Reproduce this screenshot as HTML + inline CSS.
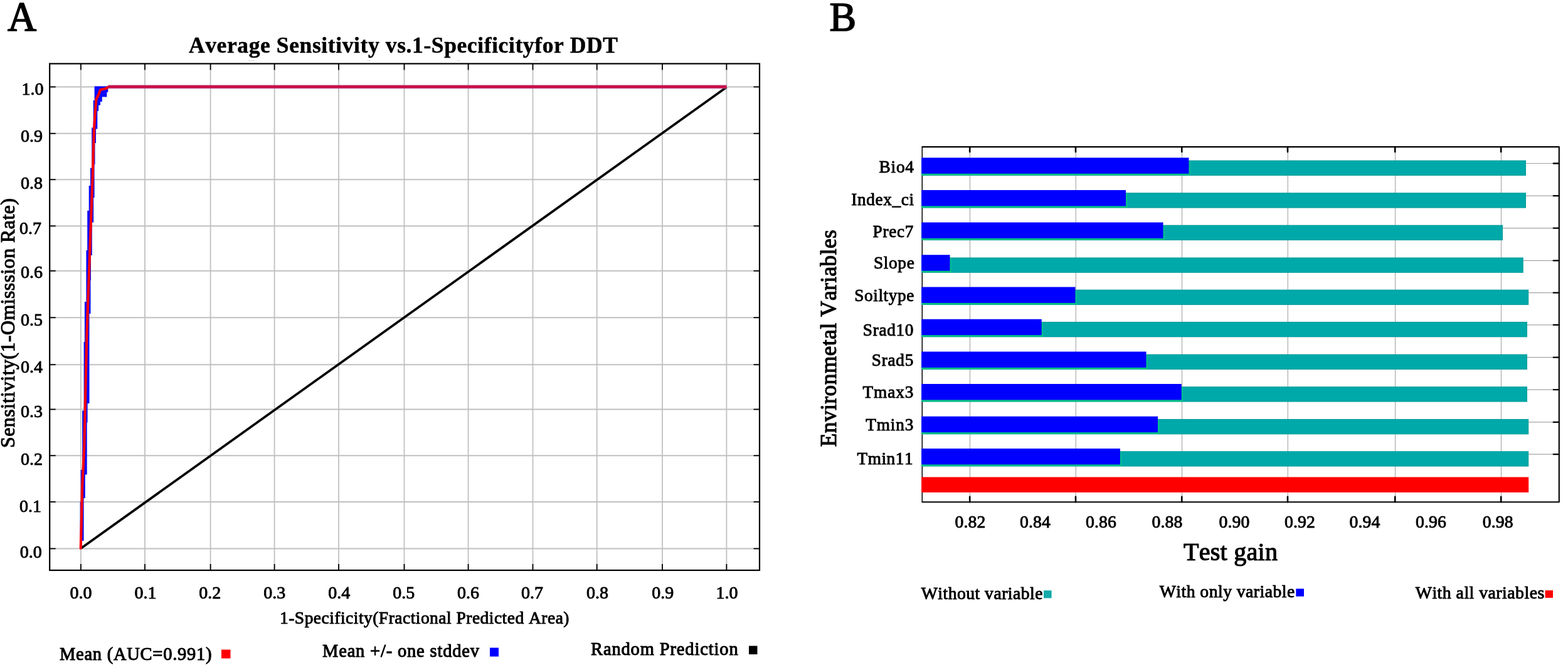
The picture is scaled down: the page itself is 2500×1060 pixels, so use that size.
<!DOCTYPE html>
<html lang="en">
<head>
<meta charset="utf-8">
<title>Average Sensitivity vs. 1-Specificity and Jackknife of Test gain</title>
<style>
html,body{margin:0;padding:0;background:#fff;}
body{width:2500px;height:1060px;overflow:hidden;}
svg{display:block;}
svg text{font-family:"Liberation Serif", serif;fill:#000;stroke:#000;stroke-linejoin:round;font-kerning:none;font-variant-ligatures:none;}
</style>
</head>
<body>
<svg width="2500" height="1060" viewBox="0 0 2500 1060">
<rect width="2500" height="1060" fill="#ffffff"/>
<g id="panelA">
<g stroke="#c0c0c0" stroke-width="1.8" fill="none">
<line x1="128.90" y1="101.5" x2="128.90" y2="909"/>
<line x1="231.00" y1="101.5" x2="231.00" y2="909"/>
<line x1="335.60" y1="101.5" x2="335.60" y2="909"/>
<line x1="437.60" y1="101.5" x2="437.60" y2="909"/>
<line x1="540.00" y1="101.5" x2="540.00" y2="909"/>
<line x1="644.50" y1="101.5" x2="644.50" y2="909"/>
<line x1="746.60" y1="101.5" x2="746.60" y2="909"/>
<line x1="849.50" y1="101.5" x2="849.50" y2="909"/>
<line x1="951.70" y1="101.5" x2="951.70" y2="909"/>
<line x1="1056.00" y1="101.5" x2="1056.00" y2="909"/>
<line x1="1158.40" y1="101.5" x2="1158.40" y2="909"/>
<line x1="79.2" y1="874.50" x2="1211" y2="874.50"/>
<line x1="79.2" y1="800.00" x2="1211" y2="800.00"/>
<line x1="79.2" y1="726.25" x2="1211" y2="726.25"/>
<line x1="79.2" y1="652.50" x2="1211" y2="652.50"/>
<line x1="79.2" y1="581.25" x2="1211" y2="581.25"/>
<line x1="79.2" y1="506.25" x2="1211" y2="506.25"/>
<line x1="79.2" y1="431.75" x2="1211" y2="431.75"/>
<line x1="79.2" y1="360.25" x2="1211" y2="360.25"/>
<line x1="79.2" y1="286.25" x2="1211" y2="286.25"/>
<line x1="79.2" y1="212.75" x2="1211" y2="212.75"/>
<line x1="79.2" y1="138.50" x2="1211" y2="138.50"/>
</g>
<line x1="129.50" y1="873.70" x2="1158.40" y2="139.10" stroke="#000" stroke-width="3.7"/>
<polygon points="150.6,137.5 150.6,160 148.7,160 148.7,203.6 146.2,203.6 146.2,267.7 144,267.7 144,296 141.7,296 141.7,335.7 139.2,335.7 139.2,399 137.4,399 137.4,481 134.9,481 134.9,545 133.6,545 133.6,654.5 131.1,654.5 131.1,749 128.7,749 128.7,800 127.6,800 127.6,874 131,874 131,862 133.6,862 133.6,794 135.8,794 135.8,756.6 138.7,756.6 138.7,673.4 139.6,673.4 139.6,643 142.5,643 142.5,500 144.5,500 144.5,447 145,447 145,407 146.8,407 146.8,354.5 149.2,354.5 149.2,315 150.6,315 150.6,262 151.5,262 151.5,228 153,228 153,205.5 155.3,205.5 155.3,177 157.2,177 157.2,167.7 160,167.7 160,162 162.8,162 162.8,154.5 170.4,154.5 170.4,147 172.3,147 172.3,137.5" fill="#0a0aff"/>
<polyline points="128.7,874 129.8,832 131.1,775.5 134.2,715 138.5,530 145.8,330 147.7,281 148.7,243.2 150,205.5 151.9,177.2 153.4,158.3 157.2,150.8 160,143.2 170.4,140.4 173.2,138.3" fill="none" stroke="#ff0000" stroke-width="4.1" stroke-linejoin="round" stroke-linecap="round"/>
<line x1="172.5" y1="138.3" x2="1158.40" y2="138.3" stroke="#bb4a8a" stroke-width="5.8"/>
<line x1="172.5" y1="138.3" x2="1158.40" y2="138.3" stroke="#ca0c42" stroke-width="3.6"/>
<rect x="79.2" y="101.5" width="1131.8" height="807.5" fill="none" stroke="#000" stroke-width="2.2"/>
<g stroke="#000" stroke-width="1.8">
<line x1="128.90" y1="101.5" x2="128.90" y2="111.5"/>
<line x1="128.90" y1="909" x2="128.90" y2="899"/>
<line x1="231.00" y1="101.5" x2="231.00" y2="111.5"/>
<line x1="231.00" y1="909" x2="231.00" y2="899"/>
<line x1="335.60" y1="101.5" x2="335.60" y2="111.5"/>
<line x1="335.60" y1="909" x2="335.60" y2="899"/>
<line x1="437.60" y1="101.5" x2="437.60" y2="111.5"/>
<line x1="437.60" y1="909" x2="437.60" y2="899"/>
<line x1="540.00" y1="101.5" x2="540.00" y2="111.5"/>
<line x1="540.00" y1="909" x2="540.00" y2="899"/>
<line x1="644.50" y1="101.5" x2="644.50" y2="111.5"/>
<line x1="644.50" y1="909" x2="644.50" y2="899"/>
<line x1="746.60" y1="101.5" x2="746.60" y2="111.5"/>
<line x1="746.60" y1="909" x2="746.60" y2="899"/>
<line x1="849.50" y1="101.5" x2="849.50" y2="111.5"/>
<line x1="849.50" y1="909" x2="849.50" y2="899"/>
<line x1="951.70" y1="101.5" x2="951.70" y2="111.5"/>
<line x1="951.70" y1="909" x2="951.70" y2="899"/>
<line x1="1056.00" y1="101.5" x2="1056.00" y2="111.5"/>
<line x1="1056.00" y1="909" x2="1056.00" y2="899"/>
<line x1="1158.40" y1="101.5" x2="1158.40" y2="111.5"/>
<line x1="1158.40" y1="909" x2="1158.40" y2="899"/>
<line x1="79.2" y1="874.50" x2="88.7" y2="874.50"/>
<line x1="1211" y1="874.50" x2="1201.5" y2="874.50"/>
<line x1="79.2" y1="800.00" x2="88.7" y2="800.00"/>
<line x1="1211" y1="800.00" x2="1201.5" y2="800.00"/>
<line x1="79.2" y1="726.25" x2="88.7" y2="726.25"/>
<line x1="1211" y1="726.25" x2="1201.5" y2="726.25"/>
<line x1="79.2" y1="652.50" x2="88.7" y2="652.50"/>
<line x1="1211" y1="652.50" x2="1201.5" y2="652.50"/>
<line x1="79.2" y1="581.25" x2="88.7" y2="581.25"/>
<line x1="1211" y1="581.25" x2="1201.5" y2="581.25"/>
<line x1="79.2" y1="506.25" x2="88.7" y2="506.25"/>
<line x1="1211" y1="506.25" x2="1201.5" y2="506.25"/>
<line x1="79.2" y1="431.75" x2="88.7" y2="431.75"/>
<line x1="1211" y1="431.75" x2="1201.5" y2="431.75"/>
<line x1="79.2" y1="360.25" x2="88.7" y2="360.25"/>
<line x1="1211" y1="360.25" x2="1201.5" y2="360.25"/>
<line x1="79.2" y1="286.25" x2="88.7" y2="286.25"/>
<line x1="1211" y1="286.25" x2="1201.5" y2="286.25"/>
<line x1="79.2" y1="212.75" x2="88.7" y2="212.75"/>
<line x1="1211" y1="212.75" x2="1201.5" y2="212.75"/>
<line x1="79.2" y1="138.50" x2="88.7" y2="138.50"/>
<line x1="1211" y1="138.50" x2="1201.5" y2="138.50"/>
</g>
<text x="66.7" y="889.30" font-size="28" text-anchor="end" stroke-width="0.92">0.0</text>
<text x="66.0" y="815.80" font-size="28" text-anchor="end" stroke-width="0.92">0.1</text>
<text x="68" y="740.55" font-size="28" text-anchor="end" stroke-width="0.92">0.2</text>
<text x="68" y="665.30" font-size="28" text-anchor="end" stroke-width="0.92">0.3</text>
<text x="68" y="594.45" font-size="28" text-anchor="end" stroke-width="0.92">0.4</text>
<text x="68" y="519.05" font-size="28" text-anchor="end" stroke-width="0.92">0.5</text>
<text x="68" y="443.25" font-size="28" text-anchor="end" stroke-width="0.92">0.6</text>
<text x="66.0" y="373.05" font-size="28" text-anchor="end" stroke-width="0.92">0.7</text>
<text x="68" y="301.05" font-size="28" text-anchor="end" stroke-width="0.92">0.8</text>
<text x="68" y="225.55" font-size="28" text-anchor="end" stroke-width="0.92">0.9</text>
<text x="69.5" y="151.30" font-size="28" text-anchor="end" stroke-width="0.92">1.0</text>
<text x="129.00" y="953.6" font-size="28" text-anchor="middle" stroke-width="0.92">0.0</text>
<text x="231.93" y="953.6" font-size="28" text-anchor="middle" stroke-width="0.92">0.1</text>
<text x="334.86" y="953.6" font-size="28" text-anchor="middle" stroke-width="0.92">0.2</text>
<text x="437.79" y="953.6" font-size="28" text-anchor="middle" stroke-width="0.92">0.3</text>
<text x="540.72" y="953.6" font-size="28" text-anchor="middle" stroke-width="0.92">0.4</text>
<text x="643.65" y="953.6" font-size="28" text-anchor="middle" stroke-width="0.92">0.5</text>
<text x="746.58" y="953.6" font-size="28" text-anchor="middle" stroke-width="0.92">0.6</text>
<text x="848.51" y="953.6" font-size="28" text-anchor="middle" stroke-width="0.92">0.7</text>
<text x="952.44" y="953.6" font-size="28" text-anchor="middle" stroke-width="0.92">0.8</text>
<text x="1056.67" y="953.6" font-size="28" text-anchor="middle" stroke-width="0.92">0.9</text>
<text x="1159.00" y="953.6" font-size="28" text-anchor="middle" stroke-width="0.92">1.0</text>
<rect x="396" y="96" width="10" height="1" fill="#d4d4d4"/>
<rect x="585" y="96" width="6" height="1" fill="#d4d4d4"/>
<rect x="729" y="96" width="4" height="1" fill="#d4d4d4"/>
<rect x="851" y="96" width="6" height="1" fill="#d4d4d4"/>
<text x="301" y="84" font-size="35.5" font-weight="bold" textLength="684" lengthAdjust="spacing" stroke-width="0.5">Average Sensitivity vs.1-Specificityfor DDT</text>
<text x="446" y="994" font-size="27.5" textLength="461.5" lengthAdjust="spacing" stroke-width="0.91">1-Specificity(Fractional Predicted Area)</text>
<text transform="translate(23,714) rotate(-90)" font-size="32" textLength="398" lengthAdjust="spacing" stroke-width="1.06">Sensitivity(1-Omisssion Rate)</text>
<text x="12.1" y="48.7" font-size="66.8" textLength="46.2" lengthAdjust="spacingAndGlyphs" stroke-width="1.7">A</text>
<text x="95" y="1051.7" font-size="28.5" textLength="242.5" lengthAdjust="spacing" stroke-width="1.05">Mean (AUC=0.991)</text>
<rect x="353" y="1035.5" width="14.5" height="14" fill="#ff0000"/>
<text x="514" y="1046.6" font-size="28.5" textLength="250" lengthAdjust="spacing" stroke-width="1.05">Mean +/- one stddev</text>
<rect x="781" y="1032.5" width="14" height="14" fill="#0000ff"/>
<text x="942" y="1044.2" font-size="28.5" textLength="234.7" lengthAdjust="spacing" stroke-width="1.05">Random Prediction</text>
<rect x="1194" y="1029.5" width="13.5" height="13.5" fill="#000"/>
</g>
<g id="panelB">
<path d="M1470.3,800.3 L1470.3,234.1" fill="none" stroke="#000" stroke-width="1.5"/>
<path d="M1469.6,234.1 L2485.8,234.1 L2485.8,800.3 L1469.6,800.3" fill="none" stroke="#000" stroke-width="2.1" stroke-linejoin="round"/>
<g stroke="#a4a4a4" stroke-width="1.1">
<line x1="1546.5" y1="234.1" x2="1546.5" y2="800.3"/>
<line x1="1715.3" y1="234.1" x2="1715.3" y2="800.3"/>
<line x1="1884.55" y1="234.1" x2="1884.55" y2="800.3"/>
<line x1="2053.3" y1="234.1" x2="2053.3" y2="800.3"/>
<line x1="2224.55" y1="234.1" x2="2224.55" y2="800.3"/>
<line x1="2393.5" y1="234.1" x2="2393.5" y2="800.3"/>
</g>
<g stroke="#000" stroke-width="2.6" stroke-linecap="round">
<line x1="1546.2" y1="234.1" x2="1546.2" y2="242.1"/>
<line x1="1546.2" y1="800.3" x2="1546.2" y2="791.8"/>
<line x1="1715" y1="234.1" x2="1715" y2="242.1"/>
<line x1="1715" y1="800.3" x2="1715" y2="791.8"/>
<line x1="1884.25" y1="234.1" x2="1884.25" y2="242.1"/>
<line x1="1884.25" y1="800.3" x2="1884.25" y2="791.8"/>
<line x1="2053" y1="234.1" x2="2053" y2="242.1"/>
<line x1="2053" y1="800.3" x2="2053" y2="791.8"/>
<line x1="2224.25" y1="234.1" x2="2224.25" y2="242.1"/>
<line x1="2224.25" y1="800.3" x2="2224.25" y2="791.8"/>
<line x1="2393.2" y1="234.1" x2="2393.2" y2="242.1"/>
<line x1="2393.2" y1="800.3" x2="2393.2" y2="791.8"/>
</g>
<line x1="2433" y1="260.5" x2="2485.8" y2="260.5" stroke="#a4a4a4" stroke-width="1.1"/>
<line x1="2476.8" y1="260.5" x2="2485.8" y2="260.5" stroke="#000" stroke-width="2.4" stroke-linecap="round"/>
<rect x="1469.2" y="255.60" width="963.80" height="24.4" fill="#009898"/>
<rect x="1469.2" y="256.50" width="963.00" height="22.6" fill="#00a9a9"/>
<rect x="1469.2" y="275.40" width="428.70" height="3.9" fill="#00c480"/>
<rect x="1895.00" y="256.40" width="2.7" height="21" fill="#00c090"/>
<rect x="1469.2" y="251.4" width="426.30" height="25.4" fill="#0000ff"/>
<text x="1457" y="275.4" font-size="27.3" text-anchor="end" textLength="55.4" lengthAdjust="spacing" stroke-width="0.9">Bio4</text>
<line x1="2433" y1="312.1" x2="2485.8" y2="312.1" stroke="#a4a4a4" stroke-width="1.1"/>
<line x1="2476.8" y1="312.1" x2="2485.8" y2="312.1" stroke="#000" stroke-width="2.4" stroke-linecap="round"/>
<rect x="1469.2" y="307.20" width="963.80" height="24.4" fill="#009898"/>
<rect x="1469.2" y="308.10" width="963.00" height="22.6" fill="#00a9a9"/>
<rect x="1469.2" y="327.00" width="328.20" height="3.9" fill="#00c480"/>
<rect x="1794.50" y="308.00" width="2.7" height="21" fill="#00c090"/>
<rect x="1469.2" y="303" width="325.80" height="25.4" fill="#0000ff"/>
<text x="1457" y="327.4" font-size="27.3" text-anchor="end" textLength="99.7" lengthAdjust="spacing" stroke-width="0.9">Index_ci</text>
<line x1="2396" y1="363.6" x2="2485.8" y2="363.6" stroke="#a4a4a4" stroke-width="1.1"/>
<line x1="2476.8" y1="363.6" x2="2485.8" y2="363.6" stroke="#000" stroke-width="2.4" stroke-linecap="round"/>
<rect x="1469.2" y="358.70" width="926.80" height="24.4" fill="#009898"/>
<rect x="1469.2" y="359.60" width="926.00" height="22.6" fill="#00a9a9"/>
<rect x="1469.2" y="378.50" width="387.70" height="3.9" fill="#00c480"/>
<rect x="1854.00" y="359.50" width="2.7" height="21" fill="#00c090"/>
<rect x="1469.2" y="354.5" width="385.30" height="25.4" fill="#0000ff"/>
<text x="1456.5" y="377.9" font-size="27.3" text-anchor="end" textLength="64.9" lengthAdjust="spacing" stroke-width="0.9">Prec7</text>
<line x1="2428.75" y1="415.35" x2="2485.8" y2="415.35" stroke="#a4a4a4" stroke-width="1.1"/>
<line x1="2476.8" y1="415.35" x2="2485.8" y2="415.35" stroke="#000" stroke-width="2.4" stroke-linecap="round"/>
<rect x="1469.2" y="410.45" width="959.55" height="24.4" fill="#009898"/>
<rect x="1469.2" y="411.35" width="958.75" height="22.6" fill="#00a9a9"/>
<rect x="1469.2" y="430.25" width="47.70" height="3.9" fill="#00c480"/>
<rect x="1514.00" y="411.25" width="2.7" height="21" fill="#00c090"/>
<rect x="1469.2" y="406.25" width="45.30" height="25.4" fill="#0000ff"/>
<text x="1457.8" y="428.4" font-size="27.3" text-anchor="end" textLength="64.9" lengthAdjust="spacing" stroke-width="0.9">Slope</text>
<line x1="2437.2" y1="466.6" x2="2485.8" y2="466.6" stroke="#a4a4a4" stroke-width="1.1"/>
<line x1="2476.8" y1="466.6" x2="2485.8" y2="466.6" stroke="#000" stroke-width="2.4" stroke-linecap="round"/>
<rect x="1469.2" y="461.70" width="968.00" height="24.4" fill="#009898"/>
<rect x="1469.2" y="462.60" width="967.20" height="22.6" fill="#00a9a9"/>
<rect x="1469.2" y="481.50" width="247.70" height="3.9" fill="#00c480"/>
<rect x="1714.00" y="462.50" width="2.7" height="21" fill="#00c090"/>
<rect x="1469.2" y="457.5" width="245.30" height="25.4" fill="#0000ff"/>
<text x="1457.3" y="480.4" font-size="27.3" text-anchor="end" textLength="95.0" lengthAdjust="spacing" stroke-width="0.9">Soiltype</text>
<line x1="2435" y1="517.85" x2="2485.8" y2="517.85" stroke="#a4a4a4" stroke-width="1.1"/>
<line x1="2476.8" y1="517.85" x2="2485.8" y2="517.85" stroke="#000" stroke-width="2.4" stroke-linecap="round"/>
<rect x="1469.2" y="512.95" width="965.80" height="24.4" fill="#009898"/>
<rect x="1469.2" y="513.85" width="965.00" height="22.6" fill="#00a9a9"/>
<rect x="1469.2" y="532.75" width="193.95" height="3.9" fill="#00c480"/>
<rect x="1660.25" y="513.75" width="2.7" height="21" fill="#00c090"/>
<rect x="1469.2" y="508.75" width="191.55" height="25.4" fill="#0000ff"/>
<text x="1456.5" y="535.4" font-size="27.3" text-anchor="end" textLength="80.7" lengthAdjust="spacing" stroke-width="0.9">Srad10</text>
<line x1="2435" y1="569.6" x2="2485.8" y2="569.6" stroke="#a4a4a4" stroke-width="1.1"/>
<line x1="2476.8" y1="569.6" x2="2485.8" y2="569.6" stroke="#000" stroke-width="2.4" stroke-linecap="round"/>
<rect x="1469.2" y="564.70" width="965.80" height="24.4" fill="#009898"/>
<rect x="1469.2" y="565.60" width="965.00" height="22.6" fill="#00a9a9"/>
<rect x="1469.2" y="584.50" width="360.70" height="3.9" fill="#00c480"/>
<rect x="1827.00" y="565.50" width="2.7" height="21" fill="#00c090"/>
<rect x="1469.2" y="560.5" width="358.30" height="25.4" fill="#0000ff"/>
<text x="1456.3" y="582.9" font-size="27.3" text-anchor="end" textLength="66.5" lengthAdjust="spacing" stroke-width="0.9">Srad5</text>
<line x1="2435" y1="621.1" x2="2485.8" y2="621.1" stroke="#a4a4a4" stroke-width="1.1"/>
<line x1="2476.8" y1="621.1" x2="2485.8" y2="621.1" stroke="#000" stroke-width="2.4" stroke-linecap="round"/>
<rect x="1469.2" y="616.20" width="965.80" height="24.4" fill="#009898"/>
<rect x="1469.2" y="617.10" width="965.00" height="22.6" fill="#00a9a9"/>
<rect x="1469.2" y="636.00" width="416.95" height="3.9" fill="#00c480"/>
<rect x="1883.25" y="617.00" width="2.7" height="21" fill="#00c090"/>
<rect x="1469.2" y="612" width="414.55" height="25.4" fill="#0000ff"/>
<text x="1456.3" y="634.15" font-size="27.3" text-anchor="end" textLength="80.7" lengthAdjust="spacing" stroke-width="0.9">Tmax3</text>
<line x1="2437.2" y1="672.85" x2="2485.8" y2="672.85" stroke="#a4a4a4" stroke-width="1.1"/>
<line x1="2476.8" y1="672.85" x2="2485.8" y2="672.85" stroke="#000" stroke-width="2.4" stroke-linecap="round"/>
<rect x="1469.2" y="667.95" width="968.00" height="24.4" fill="#009898"/>
<rect x="1469.2" y="668.85" width="967.20" height="22.6" fill="#00a9a9"/>
<rect x="1469.2" y="687.75" width="379.20" height="3.9" fill="#00c480"/>
<rect x="1845.50" y="668.75" width="2.7" height="21" fill="#00c090"/>
<rect x="1469.2" y="663.75" width="376.80" height="25.4" fill="#0000ff"/>
<text x="1456.3" y="686.4" font-size="27.3" text-anchor="end" textLength="76.0" lengthAdjust="spacing" stroke-width="0.9">Tmin3</text>
<line x1="2437.2" y1="724.1" x2="2485.8" y2="724.1" stroke="#a4a4a4" stroke-width="1.1"/>
<line x1="2476.8" y1="724.1" x2="2485.8" y2="724.1" stroke="#000" stroke-width="2.4" stroke-linecap="round"/>
<rect x="1469.2" y="719.20" width="968.00" height="24.4" fill="#009898"/>
<rect x="1469.2" y="720.10" width="967.20" height="22.6" fill="#00a9a9"/>
<rect x="1469.2" y="739.00" width="319.20" height="3.9" fill="#00c480"/>
<rect x="1785.50" y="720.00" width="2.7" height="21" fill="#00c090"/>
<rect x="1469.2" y="715" width="316.80" height="25.4" fill="#0000ff"/>
<text x="1455.6" y="739.9" font-size="27.3" text-anchor="end" textLength="89.2" lengthAdjust="spacing" stroke-width="0.9">Tmin11</text>
<rect x="1469.2" y="760.5" width="968.00" height="24.4" fill="#ff0000"/>
<text x="1547" y="840.7" font-size="27.7" text-anchor="middle" textLength="48.9" lengthAdjust="spacing" stroke-width="0.91">0.82</text>
<text x="1650.5" y="840.7" font-size="27.7" text-anchor="middle" textLength="48.9" lengthAdjust="spacing" stroke-width="0.91">0.84</text>
<text x="1755.5" y="840.7" font-size="27.7" text-anchor="middle" textLength="48.9" lengthAdjust="spacing" stroke-width="0.91">0.86</text>
<text x="1861" y="840.7" font-size="27.7" text-anchor="middle" textLength="48.9" lengthAdjust="spacing" stroke-width="0.91">0.88</text>
<text x="1968" y="840.7" font-size="27.7" text-anchor="middle" textLength="48.9" lengthAdjust="spacing" stroke-width="0.91">0.90</text>
<text x="2072.5" y="840.7" font-size="27.7" text-anchor="middle" textLength="48.9" lengthAdjust="spacing" stroke-width="0.91">0.92</text>
<text x="2176" y="840.7" font-size="27.7" text-anchor="middle" textLength="48.9" lengthAdjust="spacing" stroke-width="0.91">0.94</text>
<text x="2281.5" y="840.7" font-size="27.7" text-anchor="middle" textLength="48.9" lengthAdjust="spacing" stroke-width="0.91">0.96</text>
<text x="2388.2" y="840.7" font-size="27.7" text-anchor="middle" textLength="48.9" lengthAdjust="spacing" stroke-width="0.91">0.98</text>
<text x="1887" y="892.8" font-size="40" textLength="150" lengthAdjust="spacing" stroke-width="1.2">Test gain</text>
<text transform="translate(1332.5,712.3) rotate(-90)" font-size="35.2" stroke-width="1.16"><tspan x="0" textLength="197.6" lengthAdjust="spacing">Environmetal</tspan> <tspan x="207.4" textLength="138.6" lengthAdjust="spacing">Variables</tspan></text>
<text x="1322.5" y="48.5" font-size="65.6" textLength="42.7" lengthAdjust="spacingAndGlyphs" stroke-width="1.7">B</text>
<text x="1468.75" y="955.3" font-size="27.7" textLength="193.75" lengthAdjust="spacing" stroke-width="0.95">Without variable</text>
<rect x="1664" y="941.2" width="12.6" height="12.2" fill="#12aaaa"/>
<text x="1848.75" y="951.9" font-size="27.7" textLength="215.5" lengthAdjust="spacing" stroke-width="0.95">With only variable</text>
<rect x="2066.3" y="938.4" width="12.7" height="12.3" fill="#0000ff"/>
<text x="2256.7" y="953.6" font-size="27.8" textLength="205.6" lengthAdjust="spacing" stroke-width="0.95">With all variables</text>
<rect x="2463.6" y="941" width="12.4" height="11.9" fill="#ff0000"/>
</g>
</svg>
</body>
</html>
